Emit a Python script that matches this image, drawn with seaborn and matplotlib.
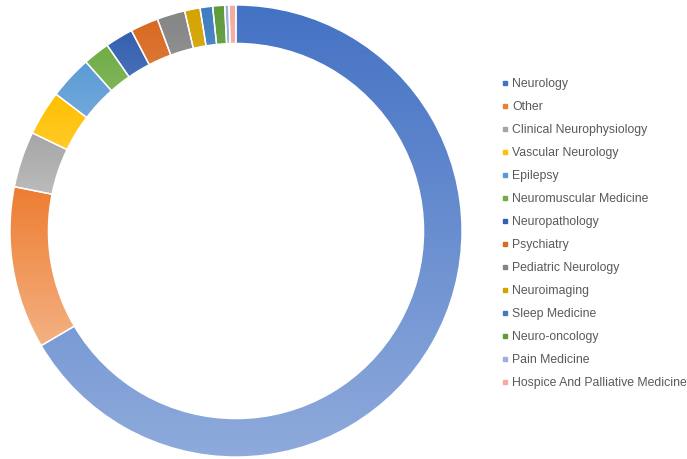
import numpy as np
import matplotlib
matplotlib.use('Agg')
import matplotlib.pyplot as plt
import matplotlib.colors as mcolors
from matplotlib.lines import Line2D
import seaborn as sns

specialties = ['Neurology', 'Other', 'Clinical Neurophysiology', 'Vascular Neurology',
               'Epilepsy', 'Neuromuscular Medicine', 'Neuropathology', 'Psychiatry',
               'Pediatric Neurology', 'Neuroimaging', 'Sleep Medicine', 'Neuro-oncology',
               'Pain Medicine', 'Hospice And Palliative Medicine']
shares = [66.5, 11.6, 4.0, 3.2, 3.1, 1.9, 2.0, 2.0, 2.0, 1.1, 0.9, 0.85, 0.3, 0.5]
office_colors = ['#4472C4', '#ED7D31', '#A5A5A5', '#FFC000', '#5B9BD5', '#70AD47',
                 '#3560B0', '#D86A22', '#858585', '#D4A300', '#3F7DC0', '#5E9A3A',
                 '#9DB1DE', '#F4ABA0']

sns.set_theme(style='white')
plt.rcParams['font.family'] = ['Liberation Sans', 'DejaVu Sans']

fig = plt.figure(figsize=(6.87, 4.59), dpi=100)
ax = fig.add_axes([10 / 687, 2 / 459, 452 / 687, 452 / 459])

wedges, _ = ax.pie(shares, colors=office_colors, startangle=90, counterclock=False,
                   radius=1, wedgeprops=dict(width=0.17, edgecolor='white', linewidth=1))

# excel-like vertical gradient inside each wedge (dark on top, lighter at bottom)
for w, c in zip(wedges, office_colors):
    base = np.array(mcolors.to_rgb(c))
    light = base + (1 - base) * 0.4
    t = np.linspace(0, 1, 256)[:, None]
    grad = light[None, :] * (1 - t) + base[None, :] * t
    grad = np.repeat(grad[:, None, :], 2, axis=1)
    verts = w.get_path().vertices
    x0, x1 = verts[:, 0].min(), verts[:, 0].max()
    y0, y1 = verts[:, 1].min(), verts[:, 1].max()
    im = ax.imshow(grad, extent=(x0, x1, y0, y1), origin='lower', aspect='auto',
                   interpolation='bilinear', zorder=1)
    im.set_clip_path(w)
    w.set_facecolor('none')
    w.set_zorder(2)

ax.set_xlim(-1, 1)
ax.set_ylim(-1, 1)
ax.set_aspect('equal')
ax.axis('off')

handles = [Line2D([], [], marker='s', linestyle='none', markersize=3.5,
                  markerfacecolor=c, markeredgecolor=c) for c in office_colors]
leg = fig.legend(handles, specialties, loc='upper left',
                 bbox_to_anchor=(497 / 687, 1 - 73 / 459), frameon=False,
                 fontsize=8.8, handlelength=0.5, handletextpad=0.35,
                 labelspacing=0.9, borderaxespad=0)
for txt in leg.get_texts():
    txt.set_color('#595959')

fig.savefig('out.png', dpi=100)
